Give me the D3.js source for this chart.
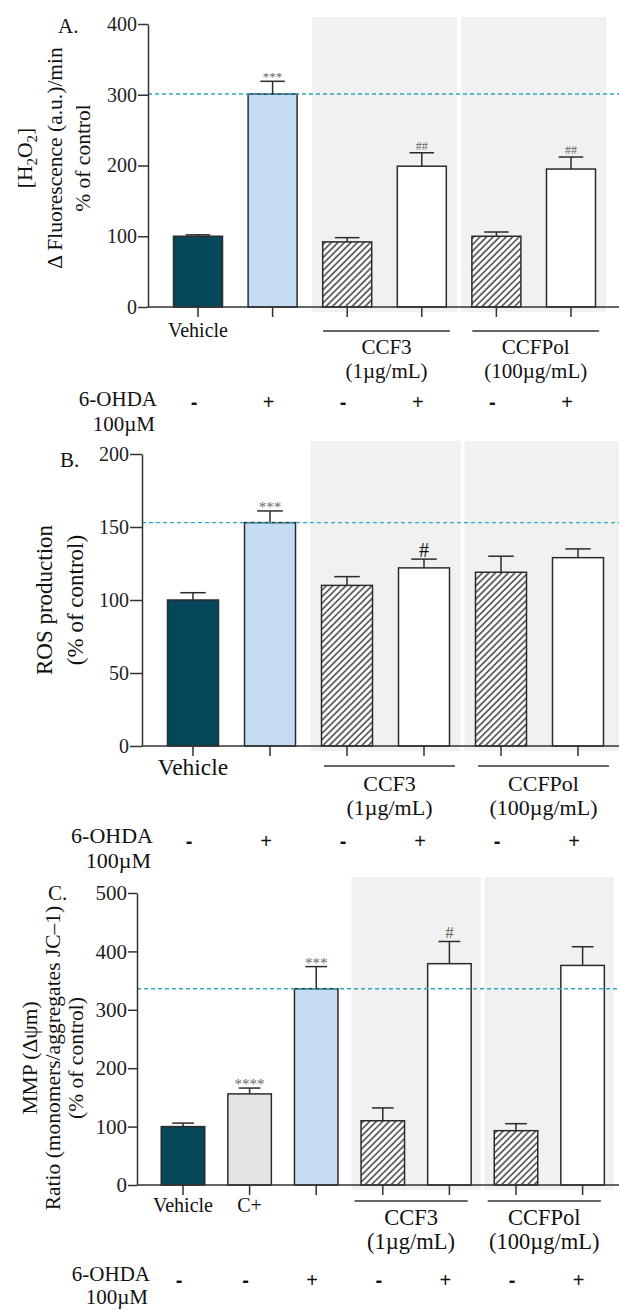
<!DOCTYPE html>
<html>
<head>
<meta charset="utf-8">
<script src="https://cdn.jsdelivr.net/npm/d3@7"></script>
<style>
  body { margin: 0; background: #fff; }
  svg { display: block; }
  text { font-family: "Liberation Serif", "Times New Roman", serif; fill: #111; }
</style>
</head>
<body>
<svg id="chart" width="619" height="1310"></svg>
<script>
// ---- data ----
// A. H2O2
const meansA = [100, 301, 92, 199, 100, 195];
const errsA = [2, 18, 6, 19, 6, 17];
const sigA = ["", "***", "", "##", "", "##"];
const fillsA = ["vehicle", "ohda", "hatch", "white", "hatch", "white"];
const labelsA = ["Vehicle", "", "", "", "", ""];
const ohdaA = ["-", "+", "-", "+", "-", "+"];
const ticksA = [0, 100, 200, 300, 400];
const groupStartA = [2, 4];

// B. ROS
const meansB = [100, 153, 110, 122, 119, 129];
const errsB = [5, 8, 6, 6, 11, 6];
const sigB = ["", "***", "", "#", "", ""];
const fillsB = ["vehicle", "ohda", "hatch", "white", "hatch", "white"];
const labelsB = ["Vehicle", "", "", "", "", ""];
const ohdaB = ["-", "+", "-", "+", "-", "+"];
const ticksB = [0, 50, 100, 150, 200];
const groupStartB = [2, 4];

// C. MMP
const meansC = [100, 156, 336, 110, 379, 93, 376];
const errsC = [6, 10, 38, 22, 38, 12, 32];
const sigC = ["", "****", "***", "", "#", "", ""];
const fillsC = ["vehicle", "cplus", "ohda", "hatch", "white", "hatch", "white"];
const labelsC = ["Vehicle", "C+", "", "", "", "", ""];
const ohdaC = ["-", "-", "+", "-", "+", "-", "+"];
const ticksC = [0, 100, 200, 300, 400, 500];
const groupStartC = [3, 5];

const groupNames = ["CCF3", "CCFPol"];
const groupDoses = ["(1µg/mL)", "(100µg/mL)"];

const colors = {
    vehicle: "#05475b",
    ohda: "#c3dcf2",
    cplus: "#e4e4e4",
    hatch: "url(#hatch)",
    white: "#ffffff"
};

const W = 619;
const svg = d3.select("#chart");

// hatch pattern for the extract-only bars
const pat = svg.append("defs").append("pattern")
    .attr("id", "hatch")
    .attr("patternUnits", "userSpaceOnUse")
    .attr("width", 4.6).attr("height", 4.6)
    .attr("patternTransform", "rotate(45)");
pat.append("rect").attr("width", 4.6).attr("height", 4.6).attr("fill", "#fff");
pat.append("line").attr("x1", 1).attr("y1", 0).attr("x2", 1).attr("y2", 4.6)
    .attr("stroke", "#222").attr("stroke-width", 1.3);

// writes "[H_2O_2]" style text with subscripts
function richText(sel, str, size) {
    str.split(/(_\d)/).forEach(part => {
        if (part.startsWith("_")) {
            sel.append("tspan").text(part.slice(1)).attr("font-size", size * 0.7).attr("dy", size * 0.25);
        } else if (part) {
            let t = sel.append("tspan").text(part);
            if (sel.selectAll("tspan").size() > 1) t.attr("dy", -size * 0.25);
        }
    });
}

function drawPanel(p) {
    const g = svg.append("g");
    const n = p.means.length;
    const pin = 1 - p.bw / p.step;
    const x0 = p.c0 - p.step / 2;
    const x = d3.scaleBand().domain(d3.range(n))
        .range([x0, x0 + n * p.step])
        .paddingInner(pin).paddingOuter(pin / 2);
    const y = d3.scaleLinear().domain([0, p.yMax]).range([p.y0, p.yTop]);
    const bw = x.bandwidth();
    const cx = i => x(i) + bw / 2;
    const gap = (p.step - bw) / 2;

    // grey boxes behind the extract groups
    p.groupStart.forEach((s, k) => {
        let left = x(s) - gap + 2;
        let right = x(s + 1) + bw + gap - 2;
        if (k === p.groupStart.length - 1) right += p.lastGrayExtra;
        g.append("rect")
            .attr("x", left).attr("y", p.grayTop)
            .attr("width", right - left).attr("height", p.y0 + 5 - p.grayTop)
            .attr("fill", "#f1f1f1");
    });

    // bars
    g.selectAll(".bar").data(p.means).enter().append("rect")
        .attr("x", (d, i) => x(i))
        .attr("y", d => y(d))
        .attr("width", bw)
        .attr("height", d => p.y0 - y(d))
        .attr("fill", (d, i) => colors[p.fills[i]])
        .attr("stroke", "#2b2b2b")
        .attr("stroke-width", 1.5);

    // error bars (upper half only)
    p.means.forEach((m, i) => {
        let top = y(m + p.errs[i]);
        g.append("line").attr("x1", cx(i)).attr("x2", cx(i))
            .attr("y1", y(m)).attr("y2", top)
            .attr("stroke", "#2b2b2b").attr("stroke-width", 1.5);
        g.append("line").attr("x1", cx(i) - bw * 0.25).attr("x2", cx(i) + bw * 0.25)
            .attr("y1", top).attr("y2", top)
            .attr("stroke", "#2b2b2b").attr("stroke-width", 1.5);
        let s = p.sig[i];
        if (s) {
            let ast = s.includes("*");
            g.append("text")
                .attr("x", cx(i))
                .attr("y", ast ? top + p.astDy : top - p.hashGap)
                .attr("text-anchor", "middle")
                .attr("font-size", ast ? p.astSize : p.hashSize)
                .style("fill", ast ? "#666" : p.hashColor)
                .text(s);
        }
    });

    // dashed reference line at the 6-OHDA level
    g.append("line")
        .attr("x1", p.axisX).attr("x2", W)
        .attr("y1", y(p.means[p.ref])).attr("y2", y(p.means[p.ref]))
        .attr("stroke", "#2aa7c9").attr("stroke-width", 1.4)
        .attr("stroke-dasharray", "4,3");

    // y axis
    const ya = g.append("g")
        .attr("transform", `translate(${p.axisX},0)`)
        .call(d3.axisLeft(y).tickValues(p.ticks).tickSize(p.tickLen).tickSizeOuter(0).tickPadding(1));
    ya.attr("font-family", null).attr("font-size", p.tickFont);
    ya.selectAll("path, line").attr("stroke", "#333").attr("stroke-width", 1.5);
    ya.selectAll("text").style("fill", "#222");

    // x axis line and ticks
    g.append("line").attr("x1", p.axisX).attr("x2", W)
        .attr("y1", p.y0).attr("y2", p.y0)
        .attr("stroke", "#333").attr("stroke-width", 1.5);
    g.selectAll(".xt").data(p.means).enter().append("line")
        .attr("x1", (d, i) => cx(i)).attr("x2", (d, i) => cx(i))
        .attr("y1", p.y0).attr("y2", p.y0 + 10)
        .attr("stroke", "#333").attr("stroke-width", 1.5);

    // category labels
    p.labels.forEach((l, i) => {
        if (!l) return;
        g.append("text").attr("x", cx(i)).attr("y", p.y0 + p.catDy)
            .attr("text-anchor", "middle").attr("font-size", p.catFont).text(l);
    });

    // group lines and names
    p.groupStart.forEach((s, k) => {
        let mid = (cx(s) + cx(s + 1)) / 2 + p.groupShift;
        let half = p.step * 0.85;
        g.append("line").attr("x1", mid - half).attr("x2", mid + half)
            .attr("y1", p.y0 + p.lineDy).attr("y2", p.y0 + p.lineDy)
            .attr("stroke", "#333").attr("stroke-width", 1.3);
        g.append("text").attr("x", mid).attr("y", p.y0 + p.nameDy)
            .attr("text-anchor", "middle").attr("font-size", p.groupFont).text(groupNames[k]);
        g.append("text").attr("x", mid).attr("y", p.y0 + p.doseDy)
            .attr("text-anchor", "middle").attr("font-size", p.groupFont).text(groupDoses[k]);
    });

    // 6-OHDA row
    g.append("text").attr("x", p.ohdaX).attr("y", p.y0 + p.ohdaDy)
        .attr("text-anchor", "end").attr("font-size", p.ohdaFont).text("6-OHDA");
    g.append("text").attr("x", p.ohdaX - 2).attr("y", p.y0 + p.ohdaDy + p.concDy)
        .attr("text-anchor", "end").attr("font-size", p.ohdaFont).text("100µM");
    p.ohda.forEach((s, i) => {
        g.append("text").attr("x", cx(i) - 4).attr("y", p.y0 + 102)
            .attr("text-anchor", "middle")
            .attr("font-size", 20)
            .attr("font-weight", s === "-" ? "bold" : "normal")
            .style("font-family", "'Liberation Sans', Arial, sans-serif")
            .text(s);
    });

    // y title
    p.title.forEach((t, k) => {
        let tx = g.append("text")
            .attr("transform", `translate(${p.titleX[k]},${p.titleY}) rotate(-90)`)
            .attr("text-anchor", "middle")
            .attr("font-size", p.titleFont);
        richText(tx, t, p.titleFont);
    });

    // panel letter
    g.append("text").attr("x", p.letterX).attr("y", p.letterY)
        .attr("font-size", 21).text(p.letter);
}

drawPanel({
    means: meansA, errs: errsA, sig: sigA, fills: fillsA, labels: labelsA, ohda: ohdaA,
    ticks: ticksA, groupStart: groupStartA, ref: 1, yMax: 400,
    axisX: 148, y0: 307, yTop: 24, c0: 198, step: 74.6, bw: 49, grayTop: 17, lastGrayExtra: 0,
    tickLen: 10, tickFont: 20, catFont: 20, catDy: 30, groupFont: 21, groupShift: 2,
    lineDy: 24, nameDy: 47, doseDy: 71, ohdaX: 157, ohdaDy: 99, ohdaFont: 21, concDy: 25,
    astSize: 13, astDy: 0, hashSize: 12, hashGap: 3, hashColor: "#666",
    title: ["[H_2O_2]", "Δ Fluorescence (a.u.)/min", "% of control"],
    titleX: [32, 62, 90], titleY: 158, titleFont: 21.5,
    letter: "A.", letterX: 58, letterY: 33
});

drawPanel({
    means: meansB, errs: errsB, sig: sigB, fills: fillsB, labels: labelsB, ohda: ohdaB,
    ticks: ticksB, groupStart: groupStartB, ref: 1, yMax: 200,
    axisX: 142, y0: 746, yTop: 454, c0: 193, step: 77, bw: 51, grayTop: 441, lastGrayExtra: 5,
    tickLen: 12, tickFont: 20, catFont: 23.5, catDy: 29, groupFont: 22, groupShift: 4,
    lineDy: 20, nameDy: 45, doseDy: 69, ohdaX: 153, ohdaDy: 97, ohdaFont: 22, concDy: 25,
    astSize: 15, astDy: 1, hashSize: 20, hashGap: 2, hashColor: "#111",
    title: ["ROS production", "(% of control)"],
    titleX: [52, 83], titleY: 600, titleFont: 23,
    letter: "B.", letterX: 60, letterY: 467
});

drawPanel({
    means: meansC, errs: errsC, sig: sigC, fills: fillsC, labels: labelsC, ohda: ohdaC,
    ticks: ticksC, groupStart: groupStartC, ref: 2, yMax: 500,
    axisX: 137, y0: 1185, yTop: 893, c0: 183, step: 66.6, bw: 43.5, grayTop: 877, lastGrayExtra: 0,
    tickLen: 9, tickFont: 21, catFont: 20, catDy: 27, groupFont: 22.5, groupShift: -5,
    lineDy: 16, nameDy: 40, doseDy: 64, ohdaX: 150, ohdaDy: 96, ohdaFont: 21, concDy: 23,
    astSize: 15, astDy: 1, hashSize: 17, hashGap: 3, hashColor: "#666",
    title: ["MMP (Δψm)", "Ratio (monomers/aggregates JC–1)", "(% of control)"],
    titleX: [37, 60, 83], titleY: 1058, titleFont: 21.5,
    letter: "C.", letterX: 48, letterY: 900
});
</script>
</body>
</html>
